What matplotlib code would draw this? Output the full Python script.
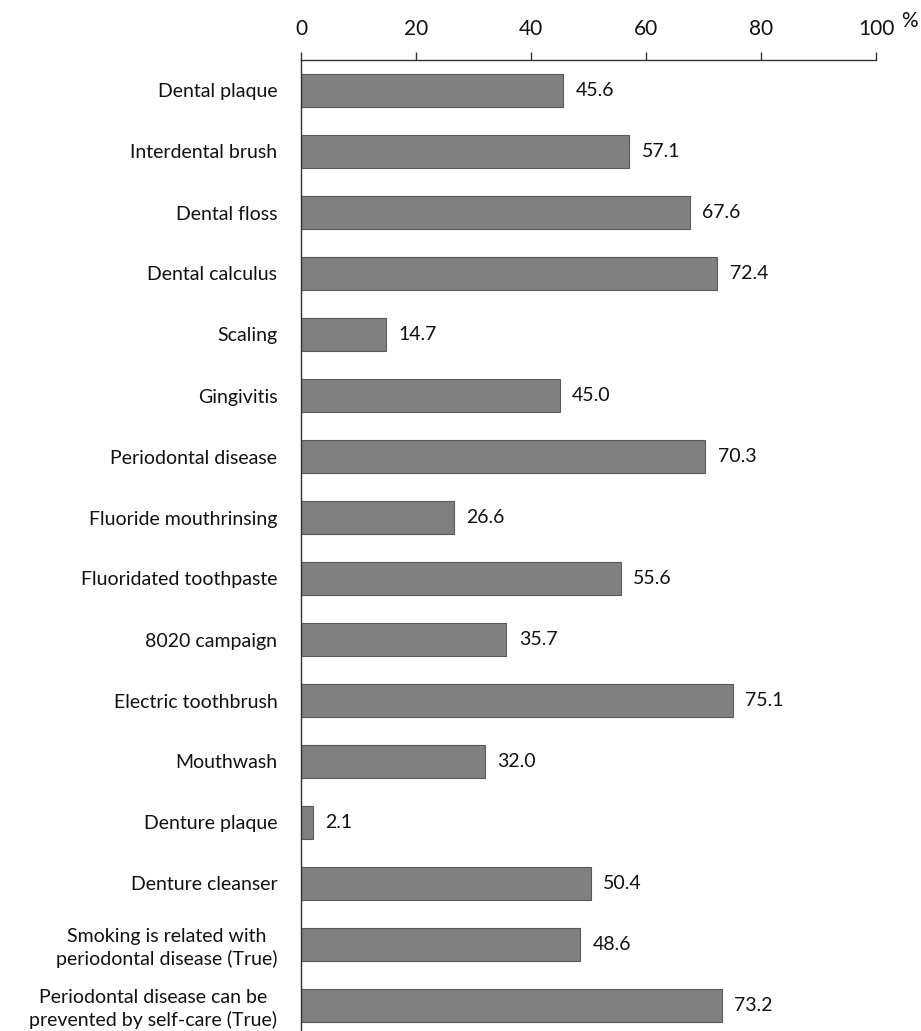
import matplotlib
matplotlib.use("Agg")
import matplotlib.pyplot as plt

categories = [
    "Dental plaque", "Interdental brush", "Dental floss", "Dental calculus",
    "Scaling", "Gingivitis", "Periodontal disease", "Fluoride mouthrinsing",
    "Fluoridated toothpaste", "8020 campaign", "Electric toothbrush",
    "Mouthwash", "Denture plaque", "Denture cleanser",
    "Smoking is related with\nperiodontal disease (True)",
    "Periodontal disease can be\nprevented by self-care (True)",
]
values = [45.6, 57.1, 67.6, 72.4, 14.7, 45.0, 70.3, 26.6, 55.6, 35.7,
          75.1, 32.0, 2.1, 50.4, 48.6, 73.2]
xticks = [0, 20, 40, 60, 80, 100]

plt.rcParams['font.family'] = ['Lato', 'DejaVu Sans']
fs = 14

W, H = 921, 1031
left, right, top, bottom = 301, 876, 60, 1036
fig = plt.figure(figsize=(W/100, H/100), dpi=100)
ax = fig.add_axes([left/W, 1 - bottom/H, (right-left)/W, (bottom-top)/H])

ypos = list(range(len(categories)))
ax.barh(ypos, values, height=0.557, color='#808080', edgecolor='#5a5a5a', linewidth=0.8)
ax.set_ylim(len(categories) - 0.5, -0.5)
ax.set_xlim(0, 100)
ax.set_yticks(ypos)
ax.set_yticklabels(categories, fontsize=fs, multialignment='center', linespacing=1.3,
                   color='#111111')
ax.tick_params(axis='y', length=0, pad=17)
ax.xaxis.tick_top()
ax.set_xticks(xticks)
ax.set_xticklabels([str(t) for t in xticks], fontsize=fs + 1, color='#111111')
ax.tick_params(axis='x', direction='out', length=6, width=1, pad=9, color='#333333')
for s in ['right', 'bottom']:
    ax.spines[s].set_visible(False)
for s in ['top', 'left']:
    ax.spines[s].set_linewidth(1)
    ax.spines[s].set_color('#333333')

for y, v in zip(ypos, values):
    ax.annotate(f"{v:.1f}", (v, y), xytext=(9, 0), textcoords='offset points',
                va='center', ha='left', fontsize=fs, color='#111111')

ax.text(1.059, 1 + 39/(bottom-top), '%', transform=ax.transAxes, fontsize=fs + 1,
        ha='center', va='center', color='#111111')

fig.savefig("out.png", dpi=100)
